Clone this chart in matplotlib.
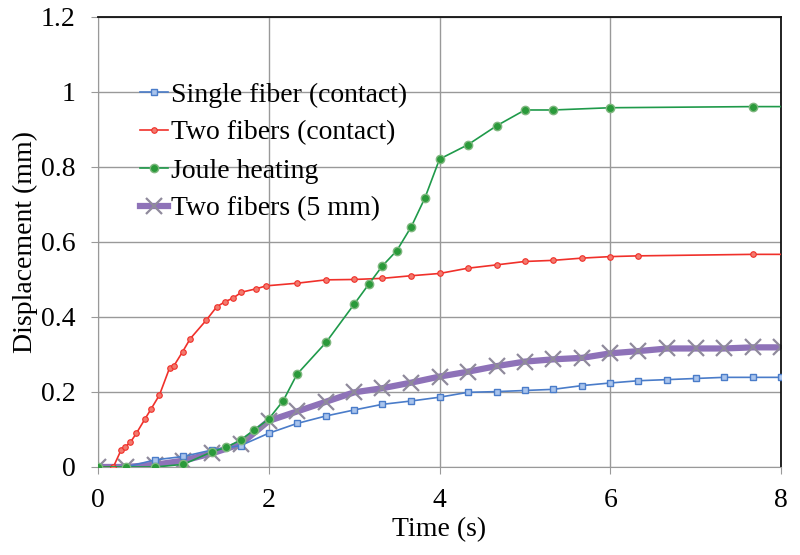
import matplotlib
matplotlib.use("Agg")
import matplotlib.pyplot as plt

plt.rcParams['font.family'] = ['Liberation Serif', 'DejaVu Serif']

# Single fiber (contact)
t_single = [0, 0.33, 0.67, 1.0, 1.33, 1.67, 2.0, 2.33, 2.67, 3.0, 3.33, 3.67, 4.0, 4.33,
            4.67, 5.0, 5.33, 5.67, 6.0, 6.33, 6.67, 7.0, 7.33, 7.67, 8.0]
d_single = [0, 0, 0.019, 0.028, 0.045, 0.057, 0.09, 0.116, 0.136, 0.152, 0.167, 0.176, 0.186, 0.199,
            0.201, 0.204, 0.207, 0.217, 0.224, 0.23, 0.233, 0.236, 0.239, 0.239, 0.239]

# Two fibers (contact)
t_two = [0, 0.18, 0.27, 0.32, 0.38, 0.45, 0.55, 0.62, 0.72, 0.84, 0.89, 0.99, 1.08, 1.27,
         1.39, 1.49, 1.58, 1.68, 1.85, 1.97, 2.33, 2.67, 3.0, 3.33, 3.67, 4.0, 4.33, 4.67,
         5.0, 5.33, 5.67, 6.0, 6.33, 7.67, 8.33]
d_two = [0, 0, 0.045, 0.054, 0.066, 0.09, 0.128, 0.154, 0.192, 0.265, 0.27, 0.307, 0.342, 0.392,
         0.427, 0.441, 0.45, 0.466, 0.475, 0.483, 0.49, 0.499, 0.5, 0.503, 0.51, 0.516, 0.53, 0.539,
         0.548, 0.551, 0.557, 0.561, 0.563, 0.567, 0.567]

# Joule heating
t_joule = [0, 0.33, 0.67, 1.0, 1.33, 1.5, 1.67, 1.83, 2.0, 2.17, 2.33, 2.67, 3.0, 3.17, 3.33,
           3.5, 3.67, 3.83, 4.0, 4.33, 4.67, 5.0, 5.33, 6.0, 7.67, 8.33]
d_joule = [0, 0, 0, 0.007, 0.04, 0.052, 0.072, 0.099, 0.128, 0.177, 0.247, 0.332, 0.434, 0.487, 0.536,
           0.577, 0.641, 0.718, 0.821, 0.859, 0.91, 0.952, 0.952, 0.958, 0.961, 0.961]

# Two fibers (5 mm)
t_5mm = [0, 0.33, 0.67, 1.0, 1.33, 1.67, 2.0, 2.33, 2.67, 3.0, 3.33, 3.67, 4.0, 4.33,
         4.67, 5.0, 5.33, 5.67, 6.0, 6.33, 6.67, 7.0, 7.33, 7.67, 8.0]
d_5mm = [0, 0, 0.006, 0.017, 0.036, 0.061, 0.123, 0.148, 0.174, 0.199, 0.21, 0.225, 0.241, 0.254,
         0.269, 0.281, 0.287, 0.291, 0.303, 0.309, 0.316, 0.316, 0.316, 0.319, 0.319]

x_ticks = [0, 2, 4, 6, 8]
y_ticks = [0, 0.2, 0.4, 0.6, 0.8, 1.0, 1.2]
y_tick_labels = ['0', '0.2', '0.4', '0.6', '0.8', '1', '1.2']

fig = plt.figure(figsize=(8.0, 5.55), dpi=100)
ax = fig.add_axes([0.1225, 0.1586, 0.8538, 0.8108])

ax.plot(t_single, d_single, color='#4a7cc9', lw=1.2, marker='s', ms=4.5,
        mfc='#a9c4ec', mec='#4a7cc9', mew=1.0, label='Single fiber (contact)', zorder=3)
ax.plot(t_two, d_two, color='#f0302a', lw=1.2, marker='o', ms=4,
        mfc='#f27a6e', mec='#f0302a', mew=0.8, label='Two fibers (contact)', zorder=3)
ax.plot(t_joule, d_joule, color='#1f9a4a', lw=1.2, marker='o', ms=6,
        mfc='#2a9a3a', mec='#7fb77f', mew=1.0, label='Joule heating', zorder=4)
ax.plot(t_5mm, d_5mm, color='#8e72b8', lw=4.5, marker='x', ms=11,
        mec='#8f8a9c', mew=1.6, label='Two fibers (5 mm)', zorder=2)

ax.set_xlim(0, 8)
ax.set_ylim(0, 1.2)
ax.set_xticks(x_ticks)
ax.set_xticklabels([str(v) for v in x_ticks])
ax.set_yticks(y_ticks)
ax.set_yticklabels(y_tick_labels)
ax.grid(True, color='#999999', lw=1.0)
ax.set_axisbelow(True)

for side in ['left', 'bottom']:
    ax.spines[side].set_color('#999999')
for side in ['top', 'right']:
    ax.spines[side].set_color('#111111')
    ax.spines[side].set_linewidth(1.3)

ax.tick_params(axis='x', direction='out', length=5, color='#999999',
               labelsize=20, pad=10)
ax.tick_params(axis='y', direction='out', length=5, color='#999999',
               labelsize=20, pad=11)

ax.set_xlabel('Time (s)', fontsize=20, labelpad=3)
ax.set_ylabel('Displacement (mm)', fontsize=20, labelpad=2)

leg = ax.legend(loc='upper left', bbox_to_anchor=(0.0615, 0.855), frameon=False,
                fontsize=20, handlelength=1.0, handletextpad=0.1,
                labelspacing=0.45, borderaxespad=0, borderpad=0)

fig.savefig('out.png', dpi=100)
